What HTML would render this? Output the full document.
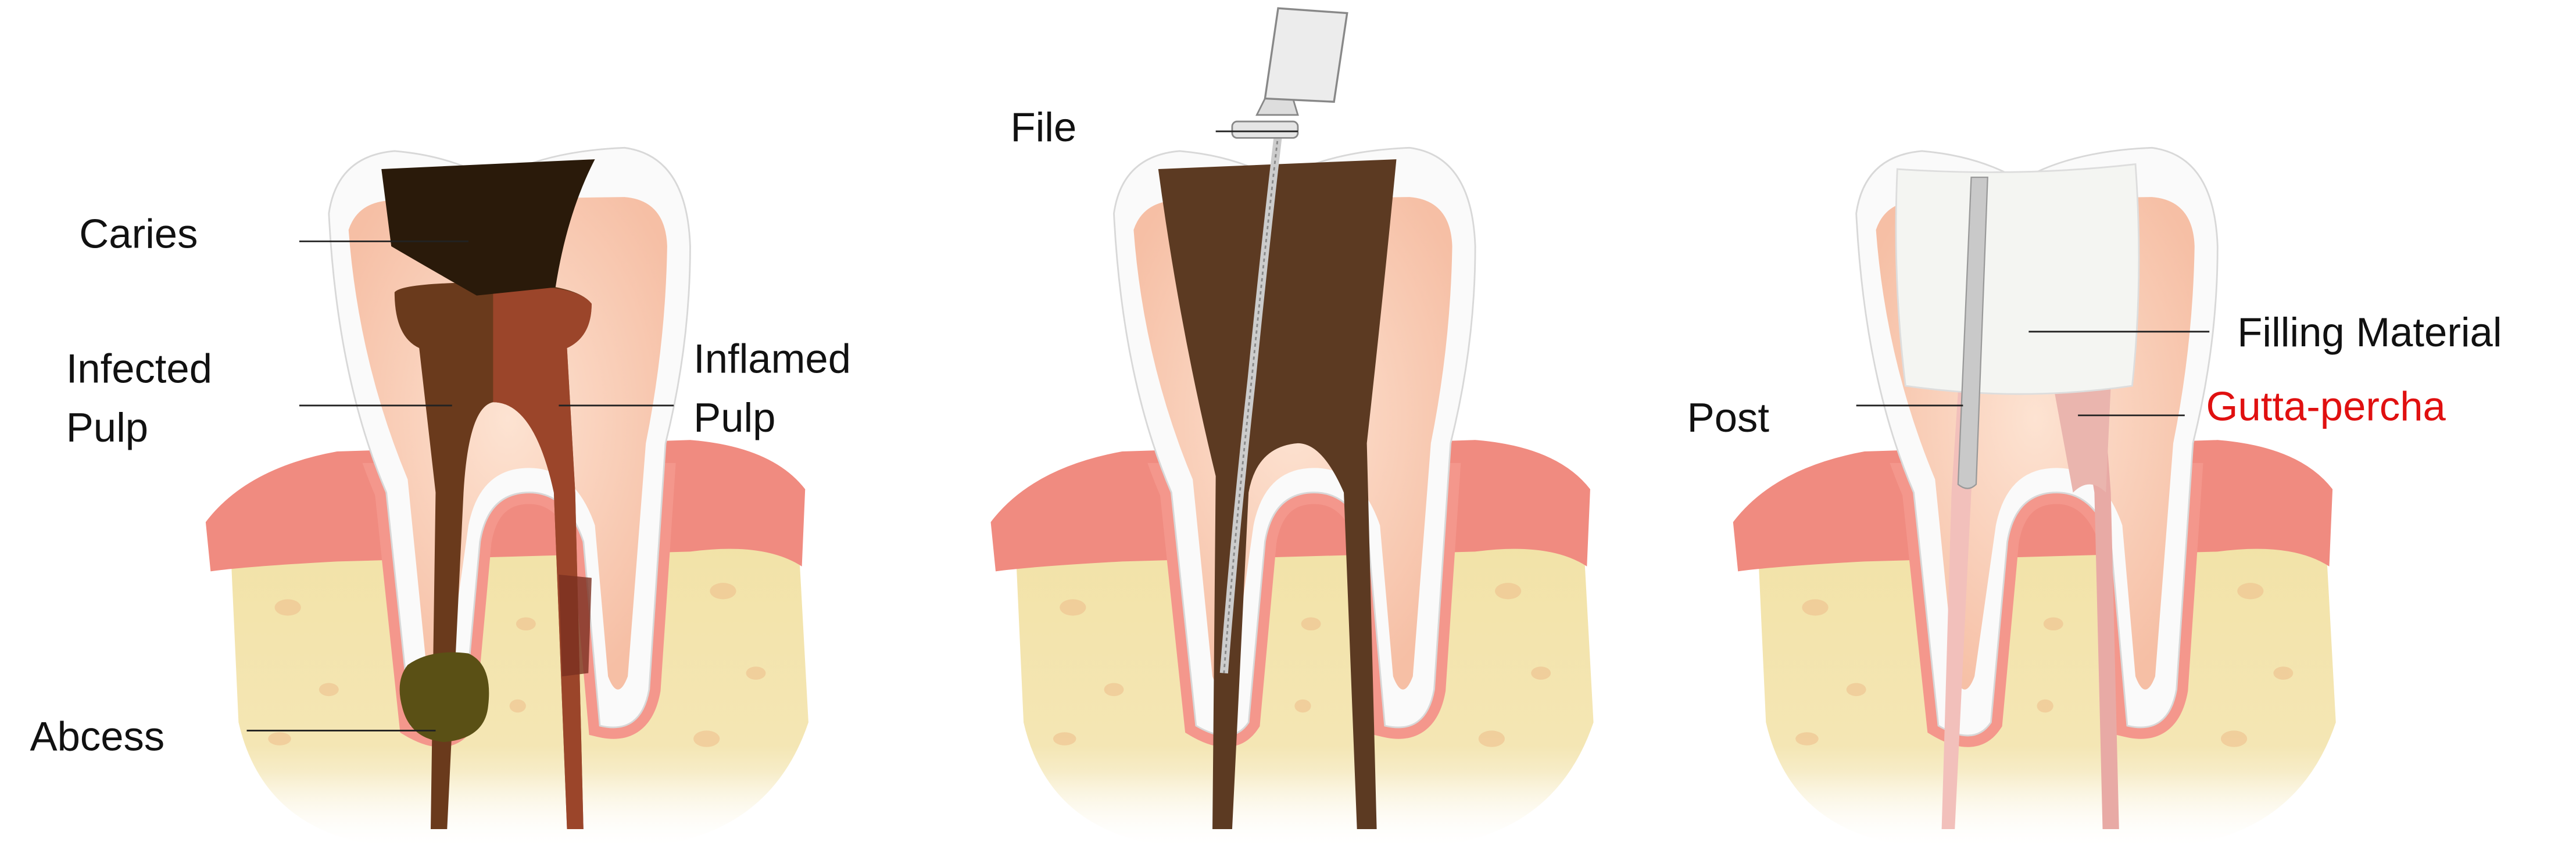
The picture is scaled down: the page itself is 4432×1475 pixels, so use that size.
<!DOCTYPE html>
<html><head><meta charset="utf-8"><style>html,body{margin:0;padding:0;background:#fff}svg{display:block}</style></head>
<body>
<svg width="4432" height="1475" viewBox="0 0 1568 522" xmlns="http://www.w3.org/2000/svg" font-family="Liberation Sans, Arial, sans-serif">
<defs>
<linearGradient id="bone" x1="0" y1="0" x2="0" y2="1">
<stop offset="0" stop-color="#f2e2a6"/><stop offset="0.7" stop-color="#f4e6b4"/><stop offset="1" stop-color="#ffffff"/>
</linearGradient>
<linearGradient id="fade" x1="0" y1="0" x2="0" y2="1">
<stop offset="0" stop-color="#fff" stop-opacity="0"/><stop offset="1" stop-color="#fff" stop-opacity="1"/>
</linearGradient>
<radialGradient id="dent" cx="0.5" cy="0.45" r="0.6">
<stop offset="0" stop-color="#fde3d2"/><stop offset="1" stop-color="#f6bfa5"/>
</radialGradient>
<clipPath id="below"><rect x="0" y="282" width="600" height="300"/></clipPath>
<g id="base">
<path d="M140,330 L485,312 L492,440 Q470,505 400,515 L230,515 Q160,505 145,440 Z" fill="url(#bone)"/>
<g fill="#eec08e" opacity="0.6">
<ellipse cx="175" cy="370" rx="8" ry="5"/><ellipse cx="200" cy="420" rx="6" ry="4"/><ellipse cx="170" cy="450" rx="7" ry="4"/>
<ellipse cx="440" cy="360" rx="8" ry="5"/><ellipse cx="460" cy="410" rx="6" ry="4"/><ellipse cx="430" cy="450" rx="8" ry="5"/>
<ellipse cx="320" cy="380" rx="6" ry="4"/><ellipse cx="315" cy="430" rx="5" ry="4"/>
</g>
<path d="M125,318 Q150,285 205,275 L420,268 Q470,272 490,298 L488,345 Q465,330 420,336 L205,342 Q150,345 128,348 Z" fill="#f08b80"/>
<path clip-path="url(#below)" d="M200,130 Q205,95 240,92 Q275,95 300,110 Q330,92 380,90 Q418,95 420,150 Q420,210 405,270 L395,420 Q390,448 365,442 L355,330 Q345,300 322,300 Q297,300 292,330 L282,440 Q272,455 250,442 L235,300 Q205,230 200,130 Z" fill="#f4978c" stroke="#f4978c" stroke-width="14"/>
<path d="M200,130 Q205,95 240,92 Q275,95 300,110 Q330,92 380,90 Q418,95 420,150 Q420,210 405,270 L395,420 Q390,448 365,442 L355,330 Q345,300 322,300 Q297,300 292,330 L282,440 Q272,455 250,442 L235,300 Q205,230 200,130 Z" fill="#fafafa" stroke="#d8d8d8" stroke-width="1"/>
<path d="M212,140 Q218,122 240,122 L380,120 Q405,122 406,150 Q405,210 393,270 L382,412 Q376,428 370,412 L362,320 Q350,285 322,285 Q292,285 285,320 L272,412 Q266,428 260,412 L248,292 Q218,220 212,140 Z" fill="url(#dent)"/>
<rect x="120" y="470" width="380" height="52" fill="url(#fade)"/>
</g>
</defs>

<!-- Tooth 1 -->
<use href="#base"/>
<path d="M240,178 Q245,172 300,172 Q350,172 360,185 Q360,205 345,212 L350,300 L355,505 L345,505 L337,300 Q325,245 300,245 Q285,248 282,300 L272,505 L262,505 L265,300 L255,212 Q240,205 240,178 Z" fill="#6a3a1c"/>
<path d="M300,175 Q350,172 360,185 Q360,205 345,212 L350,300 L355,505 L345,505 L337,300 Q325,245 300,245 Z" fill="#b04a30" opacity="0.7"/>
<path d="M232,103 L362,97 Q345,130 338,175 L290,180 Q255,160 238,150 Z" fill="#2a1a0a"/>
<path d="M340,350 L360,352 L358,410 L342,412 Z" fill="#7a3020" opacity="0.8"/>
<path d="M248,405 Q262,395 285,398 Q300,405 297,430 Q295,450 270,452 Q250,450 245,432 Q240,415 248,405 Z" fill="#5a5015"/>
<g stroke="#222" stroke-width="1" fill="none">
<line x1="182" y1="147" x2="285" y2="147"/><line x1="182" y1="247" x2="275" y2="247"/>
<line x1="340" y1="247" x2="410" y2="247"/><line x1="150" y1="445" x2="265" y2="445"/>
</g>
<g font-size="25" fill="#111">
<text x="48" y="151">Caries</text>
<text x="40" y="233">Infected</text><text x="40" y="269">Pulp</text>
<text x="422" y="227">Inflamed</text><text x="422" y="263">Pulp</text>
<text x="18" y="457">Abcess</text>
</g>

<!-- Tooth 2 -->
<use href="#base" transform="translate(478,0)"/>
<path d="M705,103 L850,97 Q842,180 832,270 L838,505 L826,505 L818,300 Q805,270 790,270 Q765,272 760,300 L750,505 L738,505 L740,290 Q718,200 705,103 Z" fill="#5c3a22"/>
<path d="M778,82 Q770,150 762,230 Q752,320 745,410" stroke="#ccc" stroke-width="5" fill="none"/>
<path d="M778,82 Q770,150 762,230 Q752,320 745,410" stroke="#888" stroke-width="1" stroke-dasharray="2,2" fill="none"/>
<rect x="750" y="74" width="40" height="10" rx="3" fill="#e5e5e5" stroke="#888" stroke-width="1"/>
<path d="M765,70 L790,70 L787,60 L770,60 Z" fill="#ddd" stroke="#888" stroke-width="1"/>
<path d="M770,60 L778,5 L820,8 L812,62 Z" fill="#ececec" stroke="#888" stroke-width="1.2"/>
<line x1="740" y1="80" x2="790" y2="80" stroke="#222" stroke-width="1"/>
<text x="615" y="86" font-size="25" fill="#111">File</text>

<!-- Tooth 3 -->
<use href="#base" transform="translate(930,0)"/>
<path d="M1192,238 L1205,238 L1200,300 L1190,505 L1182,505 L1188,300 Z" fill="#f2c0bb"/>
<path d="M1265,240 Q1280,240 1282,260 L1285,300 L1290,505 L1280,505 L1275,300 Z" fill="#e8aaa5"/>
<path d="M1250,235 L1285,235 L1282,300 Q1272,290 1262,300 Z" fill="#eab5ae"/>
<path d="M1155,103 Q1230,108 1300,100 Q1305,170 1298,235 Q1230,245 1160,235 Q1152,170 1155,103 Z" fill="#f4f5f2" stroke="#ddd" stroke-width="1"/>
<path d="M1200,108 L1210,108 L1203,295 Q1198,300 1192,295 Z" fill="#c9c9c9" stroke="#999" stroke-width="0.8"/>
<g stroke="#222" stroke-width="1" fill="none">
<line x1="1235" y1="202" x2="1345" y2="202"/><line x1="1130" y1="247" x2="1195" y2="247"/>
<line x1="1265" y1="253" x2="1330" y2="253"/>
</g>
<text x="1362" y="211" font-size="25" fill="#111">Filling Material</text>
<text x="1027" y="263" font-size="25" fill="#111">Post</text>
<text x="1343" y="256" font-size="25" fill="#e01010">Gutta-percha</text>
</svg>
</body></html>
